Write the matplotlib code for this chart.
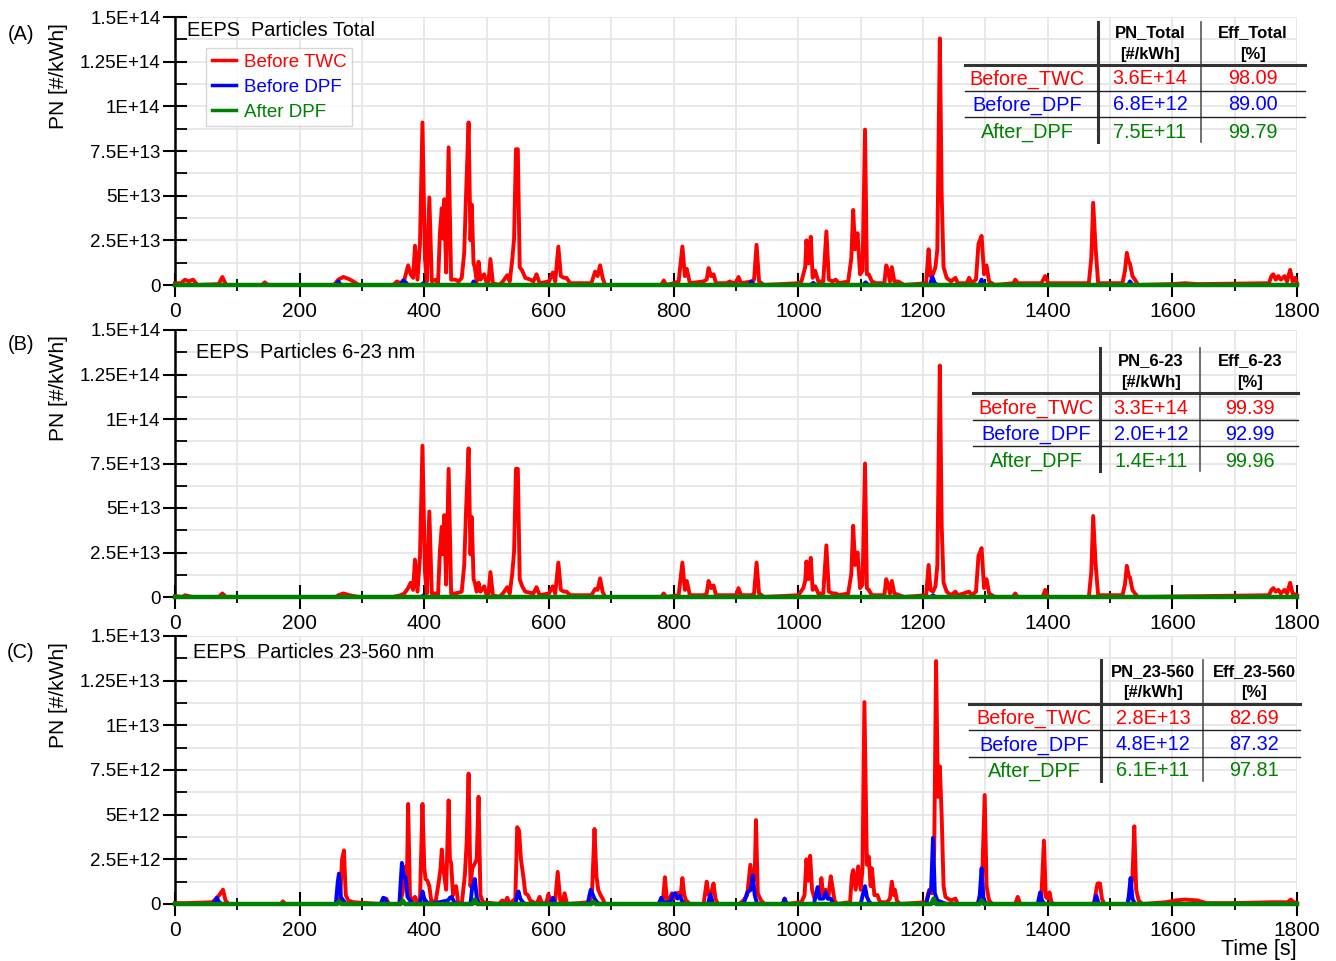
import matplotlib
matplotlib.use("Agg")
import matplotlib.pyplot as plt
from matplotlib.ticker import FixedLocator, MultipleLocator, FixedFormatter
from matplotlib.lines import Line2D

plt.rcParams['font.family'] = ['Liberation Sans', 'DejaVu Sans']

# ---------------- data (time [s], value) ----------------
# Panel A: total particles, values in units of 1e13 #/kWh
A_red = [(0,0.1),(10,0.1),(16,0.3),(22,0.2),(29,0.3),(36,0),(70,0.05),(76,0.45),(82,0),(140,0),(144,0.15),(149,0),
         (255,0),(262,0.3),(270,0.45),(278,0.35),(286,0.2),(295,0),(350,0),(356,0.2),(362,0.1),(368,0.3),(374,1.1),
         (378,0.6),(382,0.4),(385,2.2),(389,0.3),(393,2.3),(397,9.1),(401,1.5),(404,0.2),(408,4.9),(412,0.2),(418,0.3),
         (422,0.1),(425,2.9),(428,4.3),(430,2.6),(432,4.8),(435,0.7),(439,7.7),(443,0.3),(450,0.3),(455,0.2),(460,0.4),
         (464,1.8),(467,5.1),(471,9.1),(474,2.5),(476,4.5),(479,1.2),(481,1.0),(484,0.2),(487,1.3),(490,0.3),(496,0.6),
         (500,0.1),(503,0.2),(506,1.45),(510,0.1),(520,0),(526,0.2),(533,0.55),(537,0.2),(541,1.4),(544,2.6),(547,7.6),
         (550,7.6),(553,1.0),(557,0.8),(562,0.4),(570,0.3),(575,0.2),(580,0.6),(585,0.1),(600,0.2),(606,0.7),(610,0.2),
         (615,2.15),(619,0.5),(624,0.4),(628,0.4),(634,0.1),(668,0.1),(674,0.75),(678,0.5),(682,1.1),(686,0.4),(690,0),
         (780,0),(784,0.25),(788,0),(800,0.1),(808,0.2),(814,2.15),(818,0.5),(821,0.9),(826,0.1),(848,0.2),(853,0.3),
         (856,0.95),(860,0.5),(864,0.6),(868,0.1),(885,0.1),(890,0.2),(895,0.1),(900,0.15),(904,0.45),(908,0.1),(925,0.2),
         (929,0.3),(933,2.25),(937,0.2),(945,0),(1000,0.1),(1005,0.2),(1008,0.6),(1011,1.0),(1013,2.5),(1016,1.2),
         (1020,2.7),(1023,0.4),(1027,0.8),(1032,0.2),(1040,0.2),(1045,3.0),(1049,0.3),(1055,0.2),(1060,0.3),(1065,0.1),
         (1080,0.2),(1085,1.5),(1088,4.2),(1091,2.0),(1095,2.9),(1099,0.6),(1103,0.8),(1107,8.7),(1110,0.6),(1113,0.6),
         (1118,0.2),(1125,0.1),(1138,0.1),(1141,1.1),(1144,0.8),(1147,0.2),(1150,1.0),(1154,0.2),(1160,0.2),(1170,0),
         (1205,0.1),(1209,2.0),(1212,0.5),(1216,0.6),(1220,1.0),(1223,2.0),(1227,13.8),(1230,5.0),(1233,1.0),(1238,0.4),
         (1245,0.2),(1252,0.4),(1256,0.1),(1270,0.1),(1274,0.4),(1278,0.1),(1285,0.3),(1289,2.3),(1294,2.75),(1298,0.6),
         (1302,1.1),(1306,0.2),(1315,0),(1345,0.1),(1348,0.3),(1352,0.1),(1390,0.1),(1396,0.5),(1401,0.1),(1466,0.1),
         (1470,1.5),(1473,4.6),(1477,2.0),(1481,0.1),(1520,0.1),(1524,0.8),(1527,1.8),(1530,1.3),(1532,1.2),(1536,0.5),
         (1540,0.3),(1545,0),(1600,0.05),(1620,0.1),(1640,0.05),(1755,0.1),(1759,0.5),(1762,0.6),(1766,0.3),(1770,0.5),
         (1774,0.3),(1780,0.5),(1784,0.2),(1789,0.85),(1793,0.2),(1797,0.4),(1800,0.1)]
A_blue = [(0,0),(258,0),(262,0.2),(266,0),(362,0),(366,0.25),(370,0.15),(374,0),(395,0),(398,0.1),(402,0),(476,0),
          (479,0.2),(483,0),(921,0),(925,0.2),(929,0),(1020,0),(1024,0.12),(1028,0),(1104,0),(1108,0.15),(1112,0),
          (1211,0),(1215,0.45),(1219,0.1),(1223,0),(1290,0),(1294,0.3),(1298,0),(1529,0),(1532,0.2),(1536,0),(1800,0)]
A_green = [(0,0),(1800,0)]

# Panel B: 6-23 nm, values in units of 1e13 #/kWh
B_red = [(0,0.05),(12,0),(16,0.1),(22,0.05),(28,0),(70,0),(76,0.2),(82,0),(258,0),(262,0.1),(270,0.2),(280,0.1),(295,0),
         (350,0),(362,0.1),(368,0.2),
         (374,0.5),(378,0.8),(382,0.4),(385,2.1),(389,0.3),(393,2.25),(397,8.5),(401,1.4),(404,0.2),(408,4.8),(412,0.2),
         (418,0.2),(422,0.1),(425,2.6),(428,3.95),(430,2.4),(432,4.6),(435,0.7),(439,7.2),(443,0.2),(450,0.2),(460,0.3),
         (464,1.8),(467,4.9),(471,8.35),(474,2.4),(476,4.5),(479,1.0),(481,0.8),(484,0.3),(487,0.8),(490,0.3),(496,0.6),
         (500,0.1),(503,0.2),(506,1.4),(510,0.1),(520,0),(526,0.2),(533,0.55),(537,0.2),(541,1.3),(544,2.55),(547,7.2),
         (550,7.2),(553,1.0),(557,0.6),(562,0.3),(575,0.2),(580,0.55),(585,0.1),(600,0.2),(606,0.6),(610,0.2),(615,1.93),
         (619,0.4),(624,0.3),(628,0.3),(634,0.1),(668,0.1),(674,0.45),(678,0.4),(682,1.05),(686,0.3),(690,0),(780,0),
         (784,0.2),(788,0),(808,0.1),(814,1.93),(818,0.4),(821,0.9),(826,0.1),(848,0.1),(853,0.2),(856,0.9),(860,0.5),
         (864,0.65),(868,0.1),(890,0.1),(900,0.1),(904,0.5),(908,0.1),(925,0.1),(929,0.2),(933,1.93),(937,0.2),(945,0),
         (1000,0.1),(1008,0.5),(1011,0.9),(1013,2.0),(1016,1.0),(1020,2.2),(1023,0.4),(1027,0.6),(1032,0.2),(1040,0.2),
         (1045,2.9),(1049,0.3),(1055,0.2),(1060,0.2),(1065,0.1),(1080,0.2),(1085,1.3),(1088,4.0),(1091,1.8),(1095,2.5),
         (1099,0.5),(1103,0.7),(1107,7.5),(1110,0.5),(1113,0.4),(1118,0.1),(1138,0.1),(1141,1.0),(1144,0.7),(1147,0.2),
         (1150,0.9),(1154,0.2),(1170,0),(1205,0.1),(1209,1.8),(1212,0.4),(1216,0.3),(1220,0.6),(1223,1.8),(1227,13.0),
         (1230,4.0),(1233,0.8),(1238,0.3),(1245,0.1),(1252,0.3),(1256,0.1),(1274,0.3),(1278,0.1),(1285,0.3),(1289,2.3),
         (1294,2.75),(1298,0.5),(1302,1.0),(1306,0.2),(1315,0),(1344,0),(1348,0.2),(1352,0),(1392,0),(1396,0.4),(1401,0),
         (1466,0),
         (1470,1.4),(1473,4.55),(1477,1.8),(1481,0.1),(1520,0.1),(1524,0.7),(1527,1.75),(1530,1.2),(1532,1.1),(1536,0.4),
         (1540,0.2),(1545,0),(1755,0.1),(1759,0.4),(1762,0.5),(1766,0.3),(1770,0.4),(1774,0.2),(1780,0.4),(1784,0.2),
         (1789,0.8),(1793,0.2),(1800,0.1)]
B_blue = [(0,0),(395,0),(398,0.08),(402,0),(1213,0),(1216,0.1),(1220,0),(1800,0)]
B_green = [(0,0),(1800,0)]

# Panel C: 23-560 nm, values in units of 1e12 #/kWh
C_red = [(0,0.05),(20,0.05),(60,0.1),(66,0.3),(71,0.5),(77,0.8),(81,0.2),(86,0),(170,0),(173,0.15),(177,0),(260,0),
         (265,0.3),(268,2.5),(271,3.0),(274,0.5),(278,0.2),(286,0.1),(330,0),(335,0.3),(339,0.3),(343,0),(360,0),(365,0.6),
         (368,1.7),(370,2.1),(372,1.2),(374,5.6),(377,0.4),(382,0.2),(385,0.4),(389,0.1),(393,0.2),(397,5.6),(400,2.0),
         (402,1.4),(405,1.3),(408,1.0),(411,0.2),(418,0.1),(423,1.2),(426,2.0),(428,3.05),(430,2.0),(432,1.6),(435,0.8),
         (439,5.8),(441,2.5),(443,2.3),(446,0.5),(448,0.95),(451,1.0),(454,0.1),(460,0),(465,1.6),(468,3.5),(471,7.3),
         (474,1.0),(477,2.0),(480,2.2),(484,2.5),(487,6.0),(490,0.5),(494,0.1),(520,0),(525,0.2),(530,0.1),(533,0.35),
         (537,0),(546,0.3),(549,4.3),(552,4.1),(555,2.5),(559,1.5),(562,0.6),(566,0.5),(570,0.2),(580,0),(585,0.4),
         (589,0),(596,0.1),(599,0.55),(603,0.1),(610,0.2),(614,1.8),(618,0.2),(622,0.1),(625,0.6),(629,0),(665,0.1),
         (669,0.6),(673,4.2),(676,1.6),(679,0.8),(682,0.55),(686,0.3),(690,0),(780,0),(783,0.3),(786,1.5),(789,0.3),
         (793,0.2),(797,0.6),(800,0.3),(804,0.6),(808,0.62),(811,0.4),(814,1.45),(817,0.5),(820,0.2),(826,0),(848,0),
         (853,1.25),(856,0.5),(860,0.6),(864,1.15),(867,0.3),(871,0),(905,0),(912,0.2),(918,0.5),(923,2.2),(927,1.2),
         (930,1.5),(932,4.7),(935,0.6),(940,0.2),(946,0),(975,0),(978,0.3),(981,0),(1005,0.1),(1010,0.5),(1013,2.5),
         (1016,1.3),(1019,2.7),(1022,0.8),(1026,0.3),(1031,0.5),(1034,0.4),(1037,1.45),(1040,0.5),(1044,0.8),(1048,0.3),
         (1052,1.55),(1055,0.9),(1058,0.2),(1062,0),(1083,0.1),(1086,1.6),(1088,1.9),(1092,0.8),(1096,2.1),(1100,0.8),
         (1103,2.0),(1106,11.3),(1110,2.2),(1113,2.65),(1116,1.0),(1118,2.0),(1122,0.5),(1127,0.5),(1131,0.1),(1142,0.1),
         (1147,0.3),(1150,1.25),(1153,0.5),(1155,0.8),(1158,0.2),(1163,0),(1205,0.1),(1210,0.8),(1214,0.6),(1218,3.0),
         (1221,13.6),(1224,6.0),(1227,7.7),(1230,4.9),(1233,1.0),(1236,0.4),(1240,0.3),(1245,0.2),(1252,0.3),(1256,0),
         (1287,0),(1292,0.3),(1295,1.5),(1299,6.1),(1302,1.0),(1306,0.2),(1311,0),(1348,0),(1352,0.4),(1356,0),(1386,0),
         (1390,0.5),(1394,3.55),(1397,0.4),(1400,0.3),(1403,0.65),(1406,0.1),(1410,0),(1474,0),(1477,0.6),(1480,1.15),
         (1484,1.15),(1487,0.3),(1491,0),(1528,0),(1532,0.5),(1536,1.5),(1539,4.35),(1542,0.8),(1546,0.2),(1552,0),
         (1570,0.05),(1590,0.1),(1605,0.2),(1620,0.25),(1640,0.2),(1655,0.05),(1700,0.05),(1760,0.1),(1785,0.1),
         (1790,0.25),(1795,0.1),(1800,0.05)]
C_blue = [(0,0),(60,0),(64,0.15),(67,0.35),(71,0.1),(75,0),(258,0),(261,1.2),(263,1.7),(266,0.4),(270,0.2),(274,0),
          (330,0),(334,0.35),(337,0.3),(341,0),(360,0),(362,1.2),(364,2.3),(367,1.5),(370,1.5),(373,0.4),(377,0.2),
          (381,0),(393,0),(397,0.7),(400,0.3),(404,0.1),(410,0),(438,0.2),(441,0.35),(444,0.4),(448,0.1),(452,0),(474,0),
          (477,1.0),(479,1.1),(481,1.4),(484,0.4),(488,0),(546,0),(549,0.5),(551,0.7),(554,0.3),(558,0.1),(562,0),
          (602,0),(606,0.35),(610,0),(662,0),(665,0.5),(667,0.8),(670,0.55),(673,0.3),(677,0.1),(681,0),(776,0),
          (780,0.35),(784,0.1),(795,0.1),(798,0.5),(802,0.6),(806,0.3),(810,0.45),(813,0.2),(817,0),(855,0),(859,0.55),
          (863,0),(912,0),(915,0.3),(918,0.65),(924,0.8),(927,1.6),(930,0.5),(934,0),(975,0),(978,0.3),(981,0),(1025,0),
          (1028,0.5),(1031,0.95),(1034,0.3),(1040,0.3),(1044,0.65),(1047,0.3),(1052,0.3),(1056,0),(1100,0),(1104,0.6),
          (1107,1.0),(1110,0.4),(1114,0.1),(1118,0),(1205,0),(1210,0.7),(1213,0.8),(1216,3.7),(1219,0.6),(1223,0.2),
          (1230,0.1),(1238,0),(1288,0),(1291,0.5),(1294,2.0),(1297,0.3),(1301,0),(1384,0),(1388,0.65),(1391,0.2),
          (1395,0),(1474,0),(1478,0.47),(1482,0),(1528,0),(1530,0.4),(1533,1.45),(1536,0.3),(1540,0),(1800,0)]
C_green = [(0,0),(260,0),(263,0.15),(267,0),(362,0),(365,0.2),(369,0),(477,0),(481,0.25),(485,0),(668,0),(671,0.12),
           (675,0),(1213,0),(1217,0.3),(1221,0),(1291,0),(1294,0.2),(1298,0),(1800,0)]

series_names = ["Before TWC", "Before DPF", "After DPF"]
row_labels = ["Before_TWC", "Before_DPF", "After_DPF"]
A_pn = ["3.6E+14", "6.8E+12", "7.5E+11"]
A_eff = ["98.09", "89.00", "99.79"]
B_pn = ["3.3E+14", "2.0E+12", "1.4E+11"]
B_eff = ["99.39", "92.99", "99.96"]
C_pn = ["2.8E+13", "4.8E+12", "6.1E+11"]
C_eff = ["82.69", "87.32", "97.81"]

ytick_vals_14 = [0, 2.5e13, 5e13, 7.5e13, 1e14, 1.25e14, 1.5e14]
ytick_labs_14 = ["0", "2.5E+13", "5E+13", "7.5E+13", "1E+14", "1.25E+14", "1.5E+14"]
ytick_vals_13 = [0, 2.5e12, 5e12, 7.5e12, 1e13, 1.25e13, 1.5e13]
ytick_labs_13 = ["0", "2.5E+12", "5E+12", "7.5E+12", "1E+13", "1.25E+13", "1.5E+13"]
xtick_vals = [0, 200, 400, 600, 800, 1000, 1200, 1400, 1600, 1800]

# ---------------- styling ----------------
RED, BLUE, GREEN = "#ff0000", "#0000ff", "#008000"
colors = [RED, BLUE, GREEN]
W, H = 1336, 961
FS = 13.5
FSX = 15
FST = 14.3

fig = plt.figure(figsize=(W / 100, H / 100), dpi=100)

def fx(px):
    return px / W

def fy(py):
    return 1 - py / H

def make_axes(top, bottom):
    return fig.add_axes([fx(175), fy(bottom), fx(1297) - fx(175), fy(top) - fy(bottom)])

panels = [
    dict(top=17, bottom=285, red=A_red, blue=A_blue, green=A_green, unit=1e13, ymax=1.5e14,
         yv=ytick_vals_14, yl=ytick_labs_14, letter="(A)", letter_y=35, ylab_y=76,
         title="EEPS  Particles Total", title_x=187, title_y=30),
    dict(top=330, bottom=597, red=B_red, blue=B_blue, green=B_green, unit=1e13, ymax=1.5e14,
         yv=ytick_vals_14, yl=ytick_labs_14, letter="(B)", letter_y=345, ylab_y=388,
         title="EEPS  Particles 6-23 nm", title_x=196, title_y=352),
    dict(top=636, bottom=904, red=C_red, blue=C_blue, green=C_green, unit=1e12, ymax=1.5e13,
         yv=ytick_vals_13, yl=ytick_labs_13, letter="(C)", letter_y=653, ylab_y=695,
         title="EEPS  Particles 23-560 nm", title_x=193, title_y=653),
]

axes = []
for p in panels:
    ax = make_axes(p["top"], p["bottom"])
    axes.append(ax)
    for data, c, lw, z in [(p["red"], RED, 2.8, 3), (p["blue"], BLUE, 2.8, 4), (p["green"], GREEN, 3.2, 5)]:
        t = [d[0] for d in data]
        v = [d[1] * p["unit"] for d in data]
        ax.plot(t, v, color=c, lw=lw, zorder=z, clip_on=False, solid_joinstyle="round")
    ax.set_xlim(0, 1800)
    ax.set_ylim(0, p["ymax"])
    ax.xaxis.set_major_locator(FixedLocator(xtick_vals))
    ax.xaxis.set_minor_locator(MultipleLocator(100))
    ax.yaxis.set_major_locator(FixedLocator(p["yv"]))
    ax.yaxis.set_major_formatter(FixedFormatter(p["yl"]))
    ax.yaxis.set_minor_locator(MultipleLocator(p["ymax"] / 12))
    ax.grid(which="both", color="#e6e6e6", lw=1.3, zorder=0)
    ax.set_axisbelow(True)
    for s in ["top", "right"]:
        ax.spines[s].set_visible(False)
    ax.spines["left"].set_linewidth(1.8)
    ax.spines["bottom"].set_linewidth(1.5)
    ax.tick_params(axis="x", which="major", direction="inout", length=17, width=1.5, labelsize=FSX, pad=4)
    ax.tick_params(axis="x", which="minor", direction="inout", length=9, width=1.3)
    ax.tick_params(axis="y", which="major", direction="inout", length=17, width=1.5, labelsize=FS, pad=2)
    ax.tick_params(axis="y", which="minor", direction="in", length=8.5, width=1.3)
    fig.text(fx(p["title_x"]), fy(p["title_y"]), p["title"], ha="left", va="center", fontsize=FST)
    fig.text(fx(21), fy(p["letter_y"]), p["letter"], ha="center", va="center", fontsize=FST)
    fig.text(fx(58), fy(p["ylab_y"]), "PN [#/kWh]", rotation=90, ha="center", va="center", fontsize=15)

# legend in panel A
handles = [Line2D([], [], color=c, lw=2.5) for c in colors]
leg = axes[0].legend(handles, series_names, loc="upper left",
                     bbox_to_anchor=((206 - 175) / (1297 - 175), 1 - (48 - 17) / (285 - 17)),
                     bbox_transform=axes[0].transAxes,
                     fontsize=FS, frameon=True, fancybox=False, edgecolor="#cccccc",
                     handlelength=1.3, handletextpad=0.4, borderpad=0.3, labelspacing=0.42,
                     borderaxespad=0)
leg.get_frame().set_linewidth(1.0)
for txt, c in zip(leg.get_texts(), colors):
    txt.set_color(c)

# tables
def draw_table(pn_vals, eff_vals, x_left, x_right, x_v1, x_v2, y_top, y_hdr1, y_hdr2, y_thick,
               y_rows, y_thin, x_lab, x_pn, x_eff, hdr_pn, hdr_eff):
    fig.add_artist(Line2D([fx(x_v1)] * 2, [fy(y_top), fy(y_rows[-1] + 10)], color="#333333", lw=2.2))
    fig.add_artist(Line2D([fx(x_v2)] * 2, [fy(y_top), fy(y_rows[-1] + 10)], color="#555555", lw=1.2))
    fig.add_artist(Line2D([fx(x_left), fx(x_right)], [fy(y_thick)] * 2, color="#333333", lw=2.2))
    for yt in y_thin:
        fig.add_artist(Line2D([fx(x_left), fx(x_right)], [fy(yt)] * 2, color="#222222", lw=1.0))
    for x, txt1, txt2 in [(x_pn, hdr_pn, "[#/kWh]"), (x_eff, hdr_eff, "[%]")]:
        fig.text(fx(x), fy(y_hdr1), txt1, ha="center", va="center", fontsize=12, fontweight="bold")
        fig.text(fx(x), fy(y_hdr2), txt2, ha="center", va="center", fontsize=12, fontweight="bold")
    for i, c in enumerate(colors):
        fig.text(fx(x_lab), fy(y_rows[i]), row_labels[i], ha="center", va="center", fontsize=FST, color=c)
        fig.text(fx(x_pn), fy(y_rows[i]), pn_vals[i], ha="center", va="center", fontsize=FST, color=c)
        fig.text(fx(x_eff), fy(y_rows[i]), eff_vals[i], ha="center", va="center", fontsize=FST, color=c)

draw_table(A_pn, A_eff, 965, 1305, 1098, 1201, 22, 33, 54, 65, [79, 105, 132], [91, 117],
           1027, 1150, 1253, "PN_Total", "Eff_Total")
draw_table(B_pn, B_eff, 973, 1298, 1100, 1200, 348, 361, 383, 393, [408, 434, 461], [420, 446],
           1036, 1151, 1250, "PN_6-23", "Eff_6-23")
draw_table(C_pn, C_eff, 969, 1300, 1101, 1203, 660, 672, 693, 704, [718, 745, 771], [730, 757],
           1034, 1153, 1254, "PN_23-560", "Eff_23-560")

fig.text(fx(1259), fy(950), "Time [s]", ha="center", va="center", fontsize=15.5)

fig.savefig("out.png", dpi=100)
